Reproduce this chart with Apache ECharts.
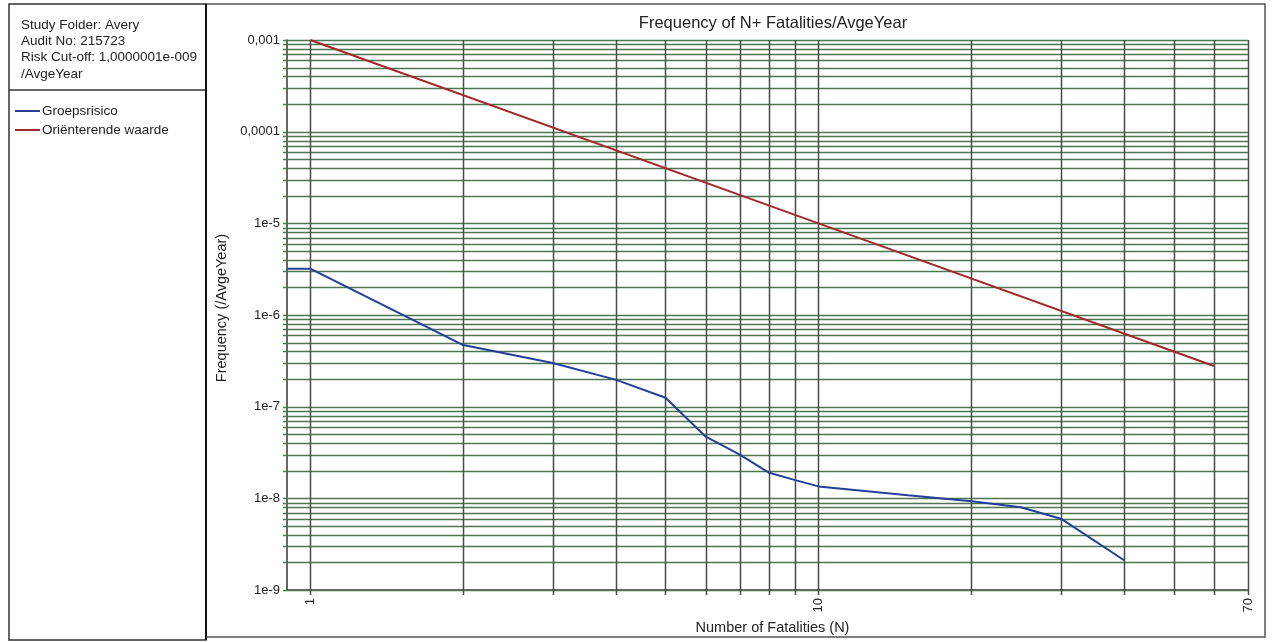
<!DOCTYPE html>
<html>
<head>
<meta charset="utf-8">
<script src="https://cdn.jsdelivr.net/npm/echarts@6/dist/echarts.min.js"></script>
<style>
html,body{margin:0;padding:0;background:#fff;}
#chart{width:1272px;height:642px;}
</style>
</head>
<body>
<div id="chart"></div>
<script>
// ---- data ----
var groepsN     = [0.9, 1, 2, 3, 4, 5, 6, 7, 8, 9, 10, 15, 20, 25, 30, 40];
var groepsFreq  = [3.2e-6, 3.2e-6, 4.7e-7, 3.0e-7, 1.96e-7, 1.25e-7, 4.7e-8, 3.0e-8, 1.9e-8, 1.58e-8, 1.35e-8, 1.08e-8, 9.3e-9, 8.0e-9, 6.0e-9, 2.1e-9];
var orientN     = [1, 10, 60];
var orientFreq  = [1e-3, 1e-5, 2.78e-7];

var xTickValues = [1, 10, 70];
var xTickLabels = ['1', '10', '70'];
var yTickValues = [1e-9, 1e-8, 1e-7, 1e-6, 1e-5, 1e-4, 1e-3];
var yTickLabels = ['1e-9', '1e-8', '1e-7', '1e-6', '1e-5', '0,0001', '0,001'];

var xGridValues = [1, 2, 3, 4, 5, 6, 7, 8, 9, 10, 20, 30, 40, 50, 60, 70];
var yGridValues = [
  1e-9, 2e-9, 3e-9, 4e-9, 5e-9, 6e-9, 7e-9, 8e-9, 9e-9,
  1e-8, 2e-8, 3e-8, 4e-8, 5e-8, 6e-8, 7e-8, 8e-8, 9e-8,
  1e-7, 2e-7, 3e-7, 4e-7, 5e-7, 6e-7, 7e-7, 8e-7, 9e-7,
  1e-6, 2e-6, 3e-6, 4e-6, 5e-6, 6e-6, 7e-6, 8e-6, 9e-6,
  1e-5, 2e-5, 3e-5, 4e-5, 5e-5, 6e-5, 7e-5, 8e-5, 9e-5,
  1e-4, 2e-4, 3e-4, 4e-4, 5e-4, 6e-4, 7e-4, 8e-4, 9e-4,
  1e-3
];
var X_MIN = 0.9, X_MAX = 70, Y_MIN = 1e-9, Y_MAX = 1e-3;

var infoLines = ['Study Folder: Avery', 'Audit No: 215723', 'Risk Cut-off: 1,0000001e-009', '/AvgeYear'];

function lookup(v, vals, labels) {
  for (var i = 0; i < vals.length; i++) {
    if (Math.abs(v - vals[i]) / vals[i] < 1e-6) return labels[i];
  }
  return '';
}
function pairs(xs, ys) { return xs.map(function (x, i) { return [x, ys[i]]; }); }

var FONT = '"Liberation Sans", Arial, sans-serif';
var chart = echarts.init(document.getElementById('chart'), null, {renderer: 'canvas'});

var graphics = [
  {type: 'rect', shape: {x: 9, y: 4, width: 197, height: 636}, style: {fill: 'none', stroke: '#333', lineWidth: 1.5}, z: 10},
  {type: 'rect', shape: {x: 206, y: 4, width: 1059, height: 633}, style: {fill: 'none', stroke: '#555', lineWidth: 1.5}, z: 10},
  {type: 'line', shape: {x1: 9, y1: 90, x2: 206, y2: 90}, style: {stroke: '#333', lineWidth: 1.5}, z: 10},
  {type: 'line', shape: {x1: 206, y1: 4, x2: 206, y2: 640}, style: {stroke: '#111', lineWidth: 2}, z: 10}
];
infoLines.forEach(function (t, i) {
  graphics.push({type: 'text', x: 21, y: 25 + i * 16.3, style: {text: t, fill: '#222', font: '13.5px ' + FONT, textVerticalAlign: 'middle'}, z: 10});
});

var option = {
  animation: false,
  backgroundColor: '#fff',
  title: {
    text: 'Frequency of N+ Fatalities/AvgeYear',
    left: 768, top: 10, textAlign: 'center',
    textStyle: {fontFamily: FONT, fontSize: 16.5, fontWeight: 'normal', color: '#222'}
  },
  legend: {
    orient: 'vertical', left: 10, top: 99,
    data: ['Groepsrisico', 'Oriënterende waarde'],
    icon: 'rect', itemWidth: 25, itemHeight: 2, itemGap: 5,
    textStyle: {fontFamily: FONT, fontSize: 13.5, color: '#222', padding: [0, 0, 0, -3]},
    selectedMode: false
  },
  graphic: graphics,
  grid: {left: 287, right: 24, top: 40, bottom: 52, containLabel: false},
  xAxis: {
    type: 'log', logBase: 10, min: X_MIN, max: X_MAX,
    name: 'Number of Fatalities (N)', nameLocation: 'middle', nameGap: 29,
    nameTextStyle: {fontFamily: FONT, fontSize: 14.5, color: '#222', padding: [0, 0, 0, 10]},
    axisLine: {show: true, lineStyle: {color: '#333', width: 1.5}},
    axisTick: {show: false},
    splitLine: {show: false},
    axisLabel: {
      rotate: 90, margin: 8, fontFamily: FONT, fontSize: 13, color: '#222',
      showMinLabel: true, showMaxLabel: true,
      formatter: function (v) { return lookup(v, xTickValues, xTickLabels); }
    }
  },
  yAxis: {
    type: 'log', logBase: 10, min: Y_MIN, max: Y_MAX,
    name: 'Frequency (/AvgeYear)', nameLocation: 'middle', nameGap: 49, nameRotate: 90,
    nameTextStyle: {fontFamily: FONT, fontSize: 14.5, color: '#222', padding: [0, 0, 0, 14]},
    axisLine: {show: true, lineStyle: {color: '#333', width: 1.5}},
    axisTick: {show: false},
    splitLine: {show: false},
    axisLabel: {
      margin: 7, fontFamily: FONT, fontSize: 13, color: '#222',
      formatter: function (v) { return lookup(v, yTickValues, yTickLabels); }
    }
  },
  series: [
    {
      type: 'custom', silent: true, z: 1, clip: false,
      data: yGridValues.map(function (v) { return [X_MIN, v]; }),
      encode: {x: 0, y: 1},
      renderItem: function (params, api) {
        var v = api.value(1);
        var p1 = api.coord([X_MIN, v]);
        var p2 = api.coord([X_MAX, v]);
        var y = Math.round(p1[1]) + 0.5;
        return {type: 'line', shape: {x1: p1[0] - 4, y1: y, x2: p2[0], y2: y},
          style: {stroke: '#4f7552', lineWidth: 1.5}};
      }
    },
    {
      type: 'custom', silent: true, z: 1, clip: false,
      data: xGridValues.map(function (v) { return [v, Y_MIN]; }),
      encode: {x: 0, y: 1},
      renderItem: function (params, api) {
        var v = api.value(0);
        var p1 = api.coord([v, Y_MIN]);
        var p2 = api.coord([v, Y_MAX]);
        var x = Math.round(p1[0]) + 0.5;
        return {type: 'line', shape: {x1: x, y1: p1[1] + 5, x2: x, y2: p2[1]},
          style: {stroke: '#464e46', lineWidth: 1.5}};
      }
    },
    {
      name: 'Groepsrisico', type: 'line', z: 5,
      data: pairs(groepsN, groepsFreq),
      showSymbol: false, symbol: 'none',
      lineStyle: {color: '#233f96', width: 2},
      itemStyle: {color: '#233f96'}
    },
    {
      name: 'Oriënterende waarde', type: 'line', z: 5,
      data: pairs(orientN, orientFreq),
      showSymbol: false, symbol: 'none',
      lineStyle: {color: '#a3282c', width: 2},
      itemStyle: {color: '#a3282c'}
    }
  ]
};
chart.setOption(option);
</script>
</body>
</html>
